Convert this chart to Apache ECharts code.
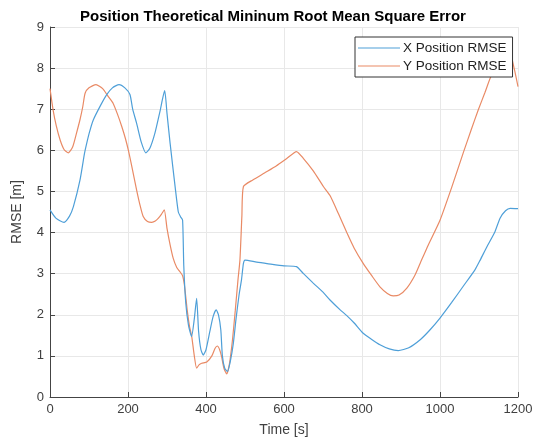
<!DOCTYPE html>
<html>
<head>
<meta charset="utf-8">
<script src="https://cdn.jsdelivr.net/npm/echarts@6/dist/echarts.min.js"></script>
<style>html,body{margin:0;padding:0;background:#fff;}#c{width:546px;height:443px;}</style>
</head>
<body>
<div id="c"></div>
<script>
var xTickLabels = ['0','200','400','600','800','1000','1200'];
var seriesNames = ['X Position RMSE', 'Y Position RMSE'];

var xPosTime = [0,15,36,50,60,77,88,90,100,111,130,145,160,177,192,205,212,222,234,246,256,269,282,294,300,308,321,329,335,340,343,348,355,363,370,376,381,387,393,400,410,418,426,432,438,442,448,455,462,470,477,485,491,496,500,530,560,600,632,650,675,700,718,744,761,780,803,825,846,870,893,920,950,974,1000,1030,1060,1090,1103,1120,1140,1154,1168,1180,1200];
var xPosRmse = [4.55,4.35,4.25,4.4,4.63,5.28,5.9,6.0,6.4,6.74,7.1,7.35,7.52,7.6,7.52,7.36,7.0,6.66,6.2,5.94,6.05,6.42,6.95,7.45,6.9,6.17,5.1,4.5,4.38,4.3,3.2,2.3,1.75,1.47,1.9,2.4,1.6,1.15,1.02,1.15,1.6,1.95,2.12,2.0,1.63,1.0,0.7,0.62,0.85,1.3,1.9,2.5,2.85,3.25,3.33,3.28,3.24,3.19,3.17,3.0,2.77,2.55,2.36,2.12,1.98,1.8,1.55,1.4,1.27,1.17,1.13,1.2,1.4,1.63,1.92,2.3,2.7,3.1,3.33,3.65,4.0,4.35,4.53,4.59,4.58];

var yPosTime = [0,8,16,26,36,47,58,68,77,84,90,100,118,135,150,162,173,184,193,201,210,222,230,239,250,261,270,278,286,293,300,308,316,325,333,340,345,352,358,363,370,376,382,389,402,415,423,429,435,440,446,453,460,468,475,482,487,492,496,520,550,580,607,632,650,675,701,718,740,761,780,803,825,846,865,880,895,915,935,949,970,1000,1030,1060,1080,1098,1115,1132,1150,1170,1180,1190,1200];
var yPosRmse = [7.5,6.98,6.6,6.25,6.02,5.94,6.08,6.42,6.75,7.06,7.39,7.52,7.6,7.5,7.3,7.14,6.88,6.58,6.3,6.0,5.6,5.04,4.7,4.39,4.27,4.25,4.28,4.35,4.45,4.55,4.1,3.7,3.37,3.15,3.05,2.95,2.7,2.1,1.7,1.5,1.0,0.70,0.78,0.82,0.85,1.0,1.18,1.24,1.15,0.98,0.7,0.56,0.8,1.4,2.1,2.85,3.33,4.4,5.12,5.28,5.45,5.62,5.8,5.97,5.8,5.5,5.12,4.9,4.45,4.0,3.62,3.25,2.95,2.68,2.52,2.46,2.48,2.65,2.95,3.25,3.7,4.3,5.1,5.95,6.5,6.98,7.4,7.83,8.1,8.3,8.32,8.0,7.55];

function pairs(t, v) { return t.map(function (x, i) { return [x, v[i]]; }); }

var chart = echarts.init(document.getElementById('c'), null, {renderer: 'canvas'});
var txt = '#404040';
chart.setOption({
  animation: false,
  backgroundColor: '#fff',
  title: {
    text: 'Position Theoretical Mininum Root Mean Square Error',
    left: 'center', top: 4,
    textStyle: {fontFamily: 'Liberation Sans', fontSize: 15, fontWeight: 'bold', color: '#000'}
  },
  legend: {
    orient: 'vertical', left: 355, top: 37,
    padding: [4, 6, 4, 3], itemGap: 4,
    itemWidth: 42, itemHeight: 1,
    icon: 'rect',
    backgroundColor: '#fff', borderColor: '#333', borderWidth: 1,
    textStyle: {fontFamily: 'Liberation Sans', fontSize: 13.5, color: '#222', padding: [0,0,0,-2]},
    data: seriesNames
  },
  grid: {left: 50, right: 28, top: 27, bottom: 46, containLabel: false},
  xAxis: {
    type: 'value', min: 0, max: 1200, interval: 200,
    name: 'Time [s]', nameLocation: 'middle', nameGap: 26,
    nameTextStyle: {fontFamily: 'Liberation Sans', fontSize: 14, color: txt},
    axisLine: {show: true, lineStyle: {color: '#444', width: 1}},
    axisTick: {show: true, inside: true, length: 5, lineStyle: {color: '#444'}},
    axisLabel: {fontFamily: 'Liberation Sans', fontSize: 13, color: txt, margin: 6,
      formatter: function (v) { return xTickLabels[Math.round(v / 200)]; }},
    splitLine: {show: true, lineStyle: {color: '#e8e8e8', width: 1}}
  },
  yAxis: {
    type: 'value', min: 0, max: 9, interval: 1,
    name: 'RMSE [m]', nameLocation: 'middle', nameGap: 26,
    nameTextStyle: {fontFamily: 'Liberation Sans', fontSize: 14, color: txt},
    axisLine: {show: true, lineStyle: {color: '#444', width: 1}},
    axisTick: {show: true, inside: true, length: 5, lineStyle: {color: '#444'}},
    axisLabel: {fontFamily: 'Liberation Sans', fontSize: 13, color: txt, margin: 6},
    splitLine: {show: true, lineStyle: {color: '#e8e8e8', width: 1}}
  },
  series: [
    {name: seriesNames[0], type: 'line', data: pairs(xPosTime, xPosRmse), showSymbol: false, symbol: 'none',
      smooth: 0.2, lineStyle: {color: '#4e9fd8', width: 1.2}, itemStyle: {color: '#4e9fd8'}, z: 3},
    {name: seriesNames[1], type: 'line', data: pairs(yPosTime, yPosRmse), showSymbol: false, symbol: 'none',
      smooth: 0.2, lineStyle: {color: '#e98a65', width: 1.2}, itemStyle: {color: '#e98a65'}, z: 2}
  ]
});
</script>
</body>
</html>
